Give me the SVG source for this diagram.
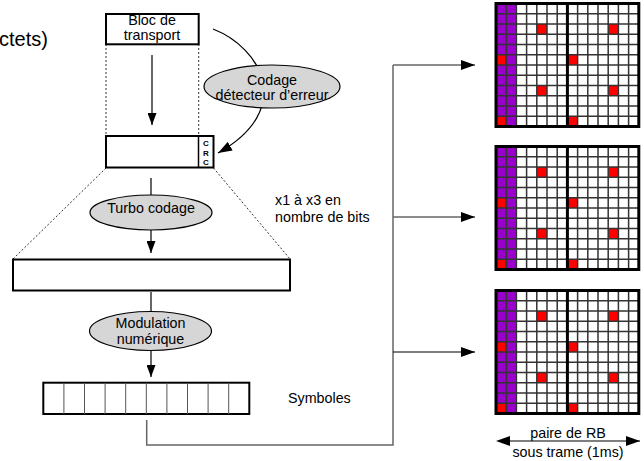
<svg xmlns="http://www.w3.org/2000/svg" width="644" height="461" viewBox="0 0 644 461">
<style>
text{font-family:"Liberation Sans",Arial,sans-serif;font-size:14.3px;fill:#000}
.c{text-anchor:middle}
.box{fill:#fff;stroke:#000;stroke-width:2}
.ell{fill:#d6d6d6;stroke:#000;stroke-width:1.2}
.dash{fill:none;stroke:#333;stroke-width:1;stroke-dasharray:2,2}
.ln{fill:none;stroke:#000;stroke-width:1.2}
.gl{fill:none;stroke:#666;stroke-width:1.5}
.crc{font-size:8px;font-weight:bold}
</style>
<defs>
<marker id="ah" viewBox="0 0 14 10" refX="14" refY="5" markerWidth="14" markerHeight="10" markerUnits="userSpaceOnUse" orient="auto"><path d="M0,0 L14,5 L0,10 z" fill="#000"/></marker>
<marker id="as" viewBox="0 0 12 9" refX="12" refY="4.5" markerWidth="12" markerHeight="9" markerUnits="userSpaceOnUse" orient="auto"><path d="M0,0 L12,4.5 L0,9 z" fill="#000"/></marker>
<g id="grid">
<rect x="0" y="0" width="142.8" height="123" fill="#fff"/>
<rect x="0" y="0" width="20.4" height="123" fill="#9900cc"/>
<g fill="#ff0000">
<rect x="0" y="51.25" width="10.2" height="10.25"/>
<rect x="0" y="112.75" width="10.2" height="10.25"/>
<rect x="40.8" y="20.5" width="10.2" height="10.25"/>
<rect x="40.8" y="82" width="10.2" height="10.25"/>
<rect x="71.4" y="51.25" width="10.2" height="10.25"/>
<rect x="71.4" y="112.75" width="10.2" height="10.25"/>
<rect x="112.2" y="20.5" width="10.2" height="10.25"/>
<rect x="112.2" y="82" width="10.2" height="10.25"/>
</g>
<path d="M10.2,0V123M20.4,0V123M30.6,0V123M40.8,0V123M51,0V123M61.2,0V123M81.6,0V123M91.8,0V123M102,0V123M112.2,0V123M122.4,0V123M132.6,0V123M0,10.25H142.8M0,20.5H142.8M0,30.75H142.8M0,41H142.8M0,51.25H142.8M0,61.5H142.8M0,71.75H142.8M0,82H142.8M0,92.25H142.8M0,102.5H142.8M0,112.75H142.8" fill="none" stroke="#333" stroke-width="1.5"/>
<path d="M71.4,0V123" stroke="#000" stroke-width="3"/>
<rect x="0" y="0" width="142.8" height="123" fill="none" stroke="#000" stroke-width="3"/>
</g>
</defs>

<text x="-1" y="46" style="font-size:20px">ctets)</text>

<g id="connectors">
<path class="dash" d="M106,44V136M198.7,44V136"/>
<path class="dash" d="M106,168L13,259M213.5,168L290,259"/>
<path class="ln" d="M152,55V125" marker-end="url(#as)"/>
<path class="ln" d="M213,29C262,48 295,110 218,153" marker-end="url(#ah)"/>
<path class="ln" d="M151,178V195"/>
<path class="ln" d="M151,230V253" marker-end="url(#as)"/>
<path class="ln" d="M151,292V312"/>
<path class="ln" d="M151,351V377" marker-end="url(#as)"/>
<path class="gl" d="M146.7,420V445H393V65"/>
<path class="gl" d="M393,65H475" marker-end="url(#ah)"/>
<path class="gl" d="M393,217H475" marker-end="url(#ah)"/>
<path class="ln" d="M393,352H475" marker-end="url(#ah)"/>
<path class="ln" d="M500,441H640" marker-end="url(#ah)"/>
<path d="M496,441L510,436L510,446z" fill="#000"/>
</g>

<g id="bloc">
<rect class="box" x="106" y="14" width="92.7" height="30.3"/>
<text class="c" x="152" y="24.5">Bloc de</text>
<text class="c" x="152" y="39.5">transport</text>
</g>

<g id="codage-erreur">
<ellipse class="ell" cx="272" cy="86.5" rx="68" ry="21.5"/>
<text class="c" x="272" y="84.5">Codage</text>
<text class="c" x="272" y="100">détecteur d’erreur</text>
</g>

<g id="crc-block">
<rect class="box" x="106" y="136" width="107.5" height="31.5"/>
<line x1="198.5" y1="136" x2="198.5" y2="167.5" stroke="#000" stroke-width="1.5"/>
<text class="c crc" x="206" y="146">C</text>
<text class="c crc" x="206" y="155.5">R</text>
<text class="c crc" x="206" y="165">C</text>
</g>

<g id="turbo">
<ellipse class="ell" cx="151" cy="212.5" rx="61" ry="17.5"/>
<text class="c" x="151" y="213">Turbo codage</text>
</g>

<g id="ratio-label">
<text x="275" y="205">x1 à x3 en</text>
<text x="275" y="221.5">nombre de bits</text>
</g>

<g id="coded-block">
<rect class="box" x="13" y="259.5" width="277" height="31"/>
</g>

<g id="modulation">
<ellipse class="ell" cx="150.5" cy="331" rx="61" ry="19.5"/>
<text class="c" x="150.5" y="327.5">Modulation</text>
<text class="c" x="150.5" y="343.5">numérique</text>
</g>

<g id="symboles">
<rect class="box" x="43.3" y="382.7" width="206" height="31.3"/>
<path d="M63.9,382.7V414M84.5,382.7V414M105.1,382.7V414M125.7,382.7V414M146.3,382.7V414M166.9,382.7V414M187.5,382.7V414M208.1,382.7V414M228.7,382.7V414" stroke="#555" stroke-width="1"/>
<text x="288" y="402.7">Symboles</text>
</g>

<g id="rb1"><use href="#grid" transform="translate(496,3.5)"/></g>
<g id="rb2"><use href="#grid" transform="translate(496,146.5)"/></g>
<g id="rb3"><use href="#grid" transform="translate(496,290.5)"/></g>

<g id="rb-label">
<text class="c" x="568" y="438">paire de RB</text>
<text class="c" x="568" y="456.5">sous trame (1ms)</text>
</g>
</svg>
